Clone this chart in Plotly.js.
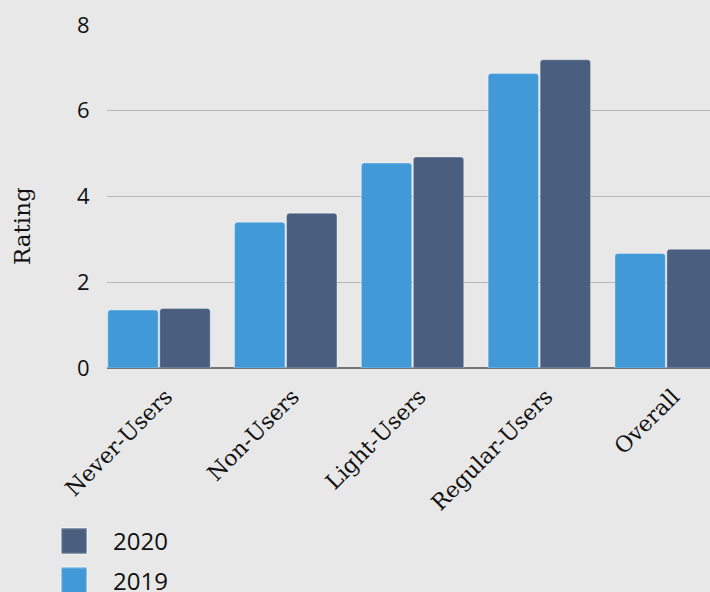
<!DOCTYPE html>
<html><head><meta charset="utf-8">
<script src="https://cdn.plot.ly/plotly-3.0.1.min.js"></script>
<style>html,body{margin:0;padding:0;background:#e8e8e8;overflow:hidden;}</style>
</head><body><div id="chart" style="width:710px;height:592px;"></div>
<script>
const categories = ["Never-Users", "Non-Users", "Light-Users", "Regular-Users", "Overall"];
const values2019 = [1.35, 3.40, 4.78, 6.87, 2.67];
const values2020 = [1.39, 3.61, 4.92, 7.19, 2.77];
const seriesNames = ["2019", "2020"];
const yTickValues = [0, 2, 4, 6, 8];
const yAxisTitle = "Rating";

const colors = {"2019": "#4299d8", "2020": "#4a5e80"};
const serif = "DejaVu Serif, serif";
const sans = "Open Sans, Noto Sans, sans-serif";

const traces = [
  {type: "bar", name: seriesNames[0], x: categories, y: values2019, legendgroup: "a", legendrank: 2,
   marker: {color: colors["2019"], cornerradius: 3, line: {width: 1, color: "rgba(255,255,255,0.35)"}}},
  {type: "bar", name: seriesNames[1], x: categories, y: values2020, legendgroup: "b", legendrank: 1,
   marker: {color: colors["2020"], cornerradius: 3, line: {width: 1, color: "rgba(255,255,255,0.35)"}}}
];

const layout = {
  width: 710, height: 592,
  paper_bgcolor: "#e8e8e8", plot_bgcolor: "#e8e8e8",
  margin: {l: 107, r: 0, t: 25, b: 224, pad: 0, autoexpand: false},
  barmode: "group", bargap: 0.18, bargroupgap: 0.03,
  showlegend: true,
  hovermode: false,
  xaxis: {
    type: "category", range: [-0.41, 4.346], tickangle: -45, automargin: false,
    tickfont: {family: serif, size: 22, color: "#111"}, ticklabelshift: 7,
    showgrid: false, showline: false, zeroline: false,
    ticks: "outside", ticklen: 6, tickcolor: "rgba(0,0,0,0)"
  },
  yaxis: {
    range: [0, 8], tickvals: yTickValues, ticktext: yTickValues.map(String), automargin: false,
    tickfont: {family: sans, size: 22, color: "#111"},
    showgrid: true, gridcolor: "#b7b7b7", gridwidth: 1,
    zeroline: true, zerolinecolor: "#777", zerolinewidth: 1.5,
    showline: false, ticks: "outside", ticklen: 12, tickcolor: "rgba(0,0,0,0)"
  },
  legend: {
    orientation: "v", x: -0.106, xanchor: "left", y: -0.44, yanchor: "top",
    traceorder: "grouped", tracegroupgap: 5, itemwidth: 60,
    font: {family: sans, size: 24, color: "#111"}, bgcolor: "rgba(0,0,0,0)"
  },
  annotations: [{
    text: yAxisTitle, xref: "paper", yref: "paper", x: -0.141, y: 0.414,
    xanchor: "center", yanchor: "middle", textangle: -90, showarrow: false,
    font: {family: serif, size: 23, color: "#111"}
  }]
};

Plotly.newPlot("chart", traces, layout, {staticPlot: true, displayModeBar: false}).then(function () {
  document.querySelectorAll("#chart .legend .legendpoints path").forEach(function (p) {
    const t = p.getAttribute("transform") || "";
    const m = t.match(/translate\(\s*([-\d.]+)[\s,]*([-\d.]*)\s*\)/);
    const ty = m && m[2] ? parseFloat(m[2]) : 0;
    p.setAttribute("d", "M5.5,6H-5.5Q-6,6 -6,5.5V-5.5Q-6,-6 -5.5,-6H5.5Q6,-6 6,-5.5V5.5Q6,6 5.5,6Z");
    p.setAttribute("transform", "translate(31," + ty + ") scale(2.15)");
  });
});
</script>
</body></html>
